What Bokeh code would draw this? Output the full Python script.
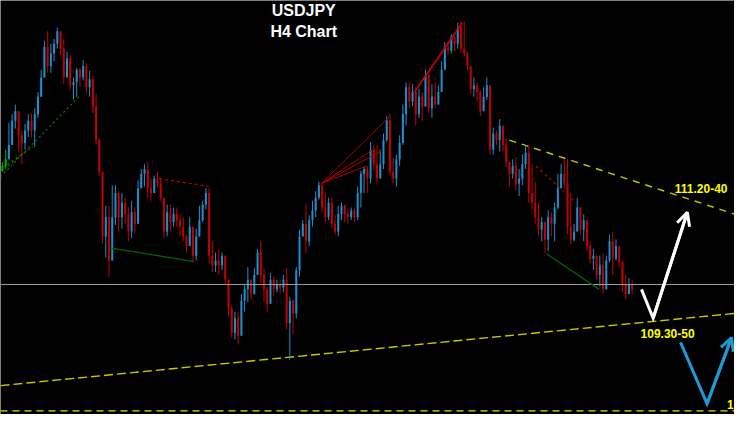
from bokeh.plotting import figure
from bokeh.models import Range1d, ColumnDataSource, Arrow, OpenHead, Label
from bokeh.embed import file_html
from bokeh.resources import INLINE

# ---------------- candle data (H4 bars, USDJPY) ----------------
highs = [
    111.99, 112.20, 112.65, 112.79, 112.95, 112.84, 112.52, 112.63, 112.79, 112.81,
    112.89, 113.16, 113.53, 114.01, 114.17, 113.96, 114.04, 114.23, 114.15, 114.04,
    113.83, 113.77, 113.40, 113.56, 113.56, 113.69, 113.64, 113.51, 113.43, 113.13,
    112.39, 111.80, 111.27, 111.27, 111.61, 111.61, 111.51, 111.48, 111.40, 111.24,
    111.35, 111.24, 111.69, 111.88, 111.96, 111.99, 111.72, 111.77, 111.83, 111.72,
    111.40, 111.29, 111.29, 111.24, 111.24, 111.13, 111.08, 110.79, 111.08, 110.68,
    110.89, 111.27, 111.35, 111.56, 111.56, 110.68, 110.49, 110.55, 110.49, 110.39,
    110.04, 109.61, 109.51, 109.51, 109.80, 109.96, 110.25, 110.04, 110.23, 110.55,
    110.68, 110.23, 109.93, 110.15, 110.09, 110.04, 110.04, 110.12, 110.23, 109.75,
    109.72, 110.25, 110.87, 111.03, 111.29, 111.11, 111.35, 111.51, 111.67, 111.64,
    111.48, 111.40, 111.40, 111.11, 111.27, 111.32, 111.29, 111.21, 111.24, 111.24,
    111.59, 111.85, 111.93, 111.93, 112.33, 112.28, 112.28, 112.20, 112.47, 112.76,
    112.79, 112.07, 112.12, 112.44, 112.95, 113.32, 113.32, 113.29, 113.24, 113.21,
    113.16, 113.53, 113.45, 113.29, 113.32, 113.27, 113.67, 113.99, 113.99, 114.12,
    114.09, 114.31, 114.33, 114.33, 113.83, 113.59, 113.40, 113.32, 113.19, 113.24,
    113.40, 113.13, 112.57, 112.52, 112.71, 112.60, 112.39, 111.96, 112.04, 112.07,
    111.88, 112.12, 112.28, 112.28, 111.96, 111.67, 111.32, 111.08, 110.87, 111.19,
    111.16, 111.32, 111.80, 111.96, 112.04, 112.04, 111.48, 110.97, 111.40, 111.24,
    111.13, 110.89, 110.68, 110.55, 110.44, 110.44, 110.47, 110.44, 110.79, 110.84,
    110.71, 110.60, 110.36, 110.12, 110.07, 110.04,
]
lows = [
    111.83, 111.88, 112.12, 112.36, 112.55, 112.17, 111.96, 112.20, 112.41, 112.41,
    112.25, 112.73, 113.08, 113.43, 113.48, 113.48, 113.67, 113.88, 113.77, 113.29,
    113.61, 113.19, 113.03, 113.08, 113.24, 113.35, 113.13, 113.08, 112.81, 112.28,
    111.77, 110.63, 110.41, 110.09, 110.57, 110.95, 110.84, 110.89, 110.97, 110.68,
    110.73, 110.81, 111.00, 111.56, 111.59, 111.40, 111.35, 111.48, 111.56, 111.35,
    110.73, 110.76, 110.84, 110.92, 110.92, 110.76, 110.68, 110.49, 110.60, 110.33,
    110.36, 110.76, 111.00, 111.21, 110.31, 110.17, 110.17, 110.12, 110.20, 109.96,
    109.43, 109.08, 109.05, 108.97, 109.21, 109.51, 109.67, 109.72, 109.88, 110.15,
    109.99, 109.67, 109.51, 109.80, 109.77, 109.83, 109.80, 109.83, 109.21, 108.71,
    109.13, 109.40, 110.09, 110.76, 110.49, 110.60, 110.92, 111.08, 111.37, 111.16,
    111.00, 111.03, 110.89, 110.79, 110.76, 111.03, 111.00, 110.97, 111.03, 111.00,
    111.03, 111.24, 111.48, 111.48, 111.64, 111.85, 111.64, 111.80, 111.88, 112.33,
    111.77, 111.64, 111.59, 111.93, 112.28, 112.60, 112.89, 112.92, 112.60, 112.73,
    112.68, 113.08, 112.81, 112.73, 112.89, 113.00, 113.16, 113.56, 113.77, 113.80,
    113.83, 113.88, 113.80, 113.75, 113.53, 113.13, 113.08, 113.00, 112.76, 113.00,
    113.03, 112.12, 112.12, 112.28, 112.17, 112.17, 111.91, 111.59, 111.72, 111.53,
    111.43, 111.61, 111.88, 111.32, 111.21, 110.97, 110.76, 110.68, 110.49, 110.52,
    110.76, 110.68, 111.21, 111.59, 111.56, 110.79, 110.63, 110.68, 110.84, 110.79,
    110.68, 110.52, 110.31, 110.20, 110.04, 109.93, 109.80, 110.04, 110.33, 110.12,
    110.36, 110.25, 109.83, 109.72, 109.88, 109.80,
]
closes = [
    111.93, 112.04, 112.28, 112.68, 112.84, 112.44, 112.31, 112.52, 112.68, 112.52,
    112.79, 113.08, 113.40, 113.91, 113.59, 113.80, 113.96, 114.17, 113.88, 113.40,
    113.72, 113.27, 113.32, 113.53, 113.40, 113.59, 113.24, 113.37, 112.92, 112.36,
    111.83, 110.76, 111.08, 110.36, 111.08, 111.48, 111.08, 111.32, 111.13, 110.84,
    111.16, 110.97, 111.56, 111.80, 111.88, 111.56, 111.48, 111.72, 111.64, 111.40,
    110.84, 111.16, 111.00, 111.13, 111.03, 110.92, 110.76, 110.60, 110.92, 110.44,
    110.76, 111.03, 111.29, 111.48, 110.44, 110.28, 110.36, 110.28, 110.44, 110.04,
    109.56, 109.16, 109.40, 109.11, 109.69, 109.88, 110.04, 109.80, 110.12, 110.49,
    110.12, 109.88, 109.64, 110.04, 109.88, 109.96, 109.91, 110.04, 109.32, 109.69,
    109.48, 110.20, 110.76, 110.97, 110.68, 111.03, 111.19, 111.40, 111.61, 111.24,
    111.08, 111.32, 110.97, 110.84, 111.13, 111.27, 111.13, 111.08, 111.19, 111.08,
    111.48, 111.80, 111.88, 111.72, 112.20, 111.96, 111.72, 111.96, 112.36, 112.68,
    111.83, 111.72, 112.04, 112.31, 112.79, 113.24, 113.00, 113.16, 112.79, 113.08,
    112.92, 113.43, 112.89, 113.08, 112.95, 113.16, 113.53, 113.91, 113.85, 114.07,
    113.96, 114.23, 113.88, 113.80, 113.59, 113.21, 113.27, 113.16, 112.84, 113.08,
    113.27, 112.20, 112.47, 112.36, 112.60, 112.28, 111.99, 111.80, 111.93, 111.64,
    111.72, 111.96, 112.15, 111.48, 111.32, 111.08, 110.87, 111.00, 110.71, 111.08,
    110.97, 111.24, 111.56, 111.80, 111.64, 110.92, 110.71, 110.84, 111.24, 110.87,
    111.03, 110.60, 110.39, 110.44, 110.12, 110.28, 109.88, 110.36, 110.68, 110.39,
    110.60, 110.33, 109.96, 109.80, 109.96, 109.88,
]
first_open = 111.85
green_bars = [0, 1]

# ---------------- drawn objects (bar index, price) ----------------
lower_trend_x = [-0.6, 226.7]
lower_trend_y = [108.28, 109.48]
upper_trend_x = [157.0, 226.7]
upper_trend_y = [112.36, 111.13]
bottom_level = 107.86
grey_level = 109.96

green_dot_a_x = [-0.6, 24.2]
green_dot_a_y = [111.75, 113.11]
green_dot_b_x = [0.3, 9.4]
green_dot_b_y = [111.91, 112.25]
green_dot_c_x = [1.8, 6.7]
green_dot_c_y = [111.93, 112.15]

red_dash_1_x = [48.5, 63.9]
red_dash_1_y = [111.72, 111.59]
green_line_1_x = [33.3, 59.4]
green_line_1_y = [110.57, 110.34]

fan_origin = (98.8, 111.64)
fan_end_x = [119.7, 115.2, 117.3, 112.7]
fan_end_y = [112.74, 112.22, 112.18, 111.93]

red_line_2_x = [127.6, 142.4]
red_line_2_y = [113.16, 114.31]
red_dash_2_x = [165.2, 177.6]
red_dash_2_y = [111.93, 111.32]
green_line_2_x = [168.5, 184.8]
green_line_2_y = [110.47, 109.88]

white_path_x = [197.9, 201.5, 212.1]
white_path_y = [109.88, 109.40, 111.16]
blue_path_x = [210.0, 218.2, 225.8]
blue_path_y = [109.00, 107.98, 109.08]

title_lines = ["USDJPY", "H4 Chart"]
title_x = 93.3
title_y = [114.52, 114.17]
zone_labels = ["111.20-40", "109.30-50", "1"]
zone_label_x = [208.2, 197.6, 224.4]
zone_label_y = [111.56, 109.14, 107.96]

# ---------------- build candles ----------------
BLUE = "#1c8fcf"
RED = "#c40000"
GREEN = "#00b000"

opens = [first_open] + closes[:-1]
xs = list(range(len(closes)))
colors, tops, bottoms, his, los = [], [], [], [], []
for i, (o, c, h, l) in enumerate(zip(opens, closes, highs, lows)):
    if i in green_bars:
        colors.append(GREEN)
    elif c >= o:
        colors.append(BLUE)
    else:
        colors.append(RED)
    tops.append(max(o, c))
    bottoms.append(min(o, c))
    his.append(max(h, o, c))
    los.append(min(l, o, c))

src = ColumnDataSource(dict(x=xs, top=tops, bottom=bottoms, hi=his, lo=los, color=colors))

p = figure(width=734, height=414,
           x_range=Range1d(-0.6, 226.7), y_range=Range1d(107.80, 114.68),
           output_backend="svg", toolbar_location=None,
           x_axis_location=None, y_axis_location=None,
           background_fill_color="black", border_fill_color="black",
           outline_line_color=None, min_border=0)
p.grid.visible = False

# yellow support / resistance lines (behind candles)
p.line(lower_trend_x, lower_trend_y, line_color="#c8c800", line_width=1.4, line_dash="9 4")
p.line(upper_trend_x, upper_trend_y, line_color="#c8c800", line_width=1.4, line_dash="7 6")
p.line([-0.6, 226.7], [bottom_level, bottom_level], line_color="#e6e600", line_width=1.4, line_dash="7 5")

# candles
p.segment(x0="x", y0="lo", x1="x", y1="hi", line_color="color", line_width=1, source=src)
p.vbar(x="x", width=0.62, top="top", bottom="bottom", fill_color="color", line_color=None, source=src)

# grey horizontal line
p.line([-0.6, 226.7], [grey_level, grey_level], line_color="#9a9a9a", line_width=1.2)

# drawn pattern lines
for lx, ly in [(green_dot_a_x, green_dot_a_y), (green_dot_b_x, green_dot_b_y), (green_dot_c_x, green_dot_c_y)]:
    p.line(lx, ly, line_color="#008000", line_width=1.2, line_dash="2 3")
p.line(red_dash_1_x, red_dash_1_y, line_color="#c00000", line_width=1.2, line_dash="3 3")
p.line(red_dash_2_x, red_dash_2_y, line_color="#b00000", line_width=1.2, line_dash="3 3")
p.line(green_line_1_x, green_line_1_y, line_color="#006400", line_width=1.3)
p.line(green_line_2_x, green_line_2_y, line_color="#006400", line_width=1.3)
for ex, ey in zip(fan_end_x, fan_end_y):
    p.line([fan_origin[0], ex], [fan_origin[1], ey], line_color="#b00000", line_width=1)
p.line(red_line_2_x, red_line_2_y, line_color="#d00000", line_width=1.6)

# projection arrows
p.line(white_path_x, white_path_y, line_color="white", line_width=3, line_join="miter")
p.add_layout(Arrow(end=OpenHead(size=13, line_color="white", line_width=3),
                   x_start=white_path_x[1], y_start=white_path_y[1],
                   x_end=white_path_x[2], y_end=white_path_y[2],
                   line_color="white", line_width=3))
p.line(blue_path_x, blue_path_y, line_color="#1e9ad8", line_width=3, line_join="miter")
p.add_layout(Arrow(end=OpenHead(size=13, line_color="#1e9ad8", line_width=3),
                   x_start=blue_path_x[1], y_start=blue_path_y[1],
                   x_end=blue_path_x[2], y_end=blue_path_y[2],
                   line_color="#1e9ad8", line_width=3))

# titles
for t, ty in zip(title_lines, title_y):
    p.add_layout(Label(x=title_x, y=ty, text=t, text_color="white",
                       text_font="Liberation Sans", text_font_style="bold",
                       text_font_size="16px", text_align="center", text_baseline="middle"))

# zone labels
for t, lx, ly in zip(zone_labels, zone_label_x, zone_label_y):
    p.add_layout(Label(x=lx, y=ly, text=t, text_color="#ffff00",
                       text_font="Liberation Sans", text_font_style="bold",
                       text_font_size="12px", text_align="left", text_baseline="middle"))

open("out.html", "w").write(file_html(p, INLINE))
